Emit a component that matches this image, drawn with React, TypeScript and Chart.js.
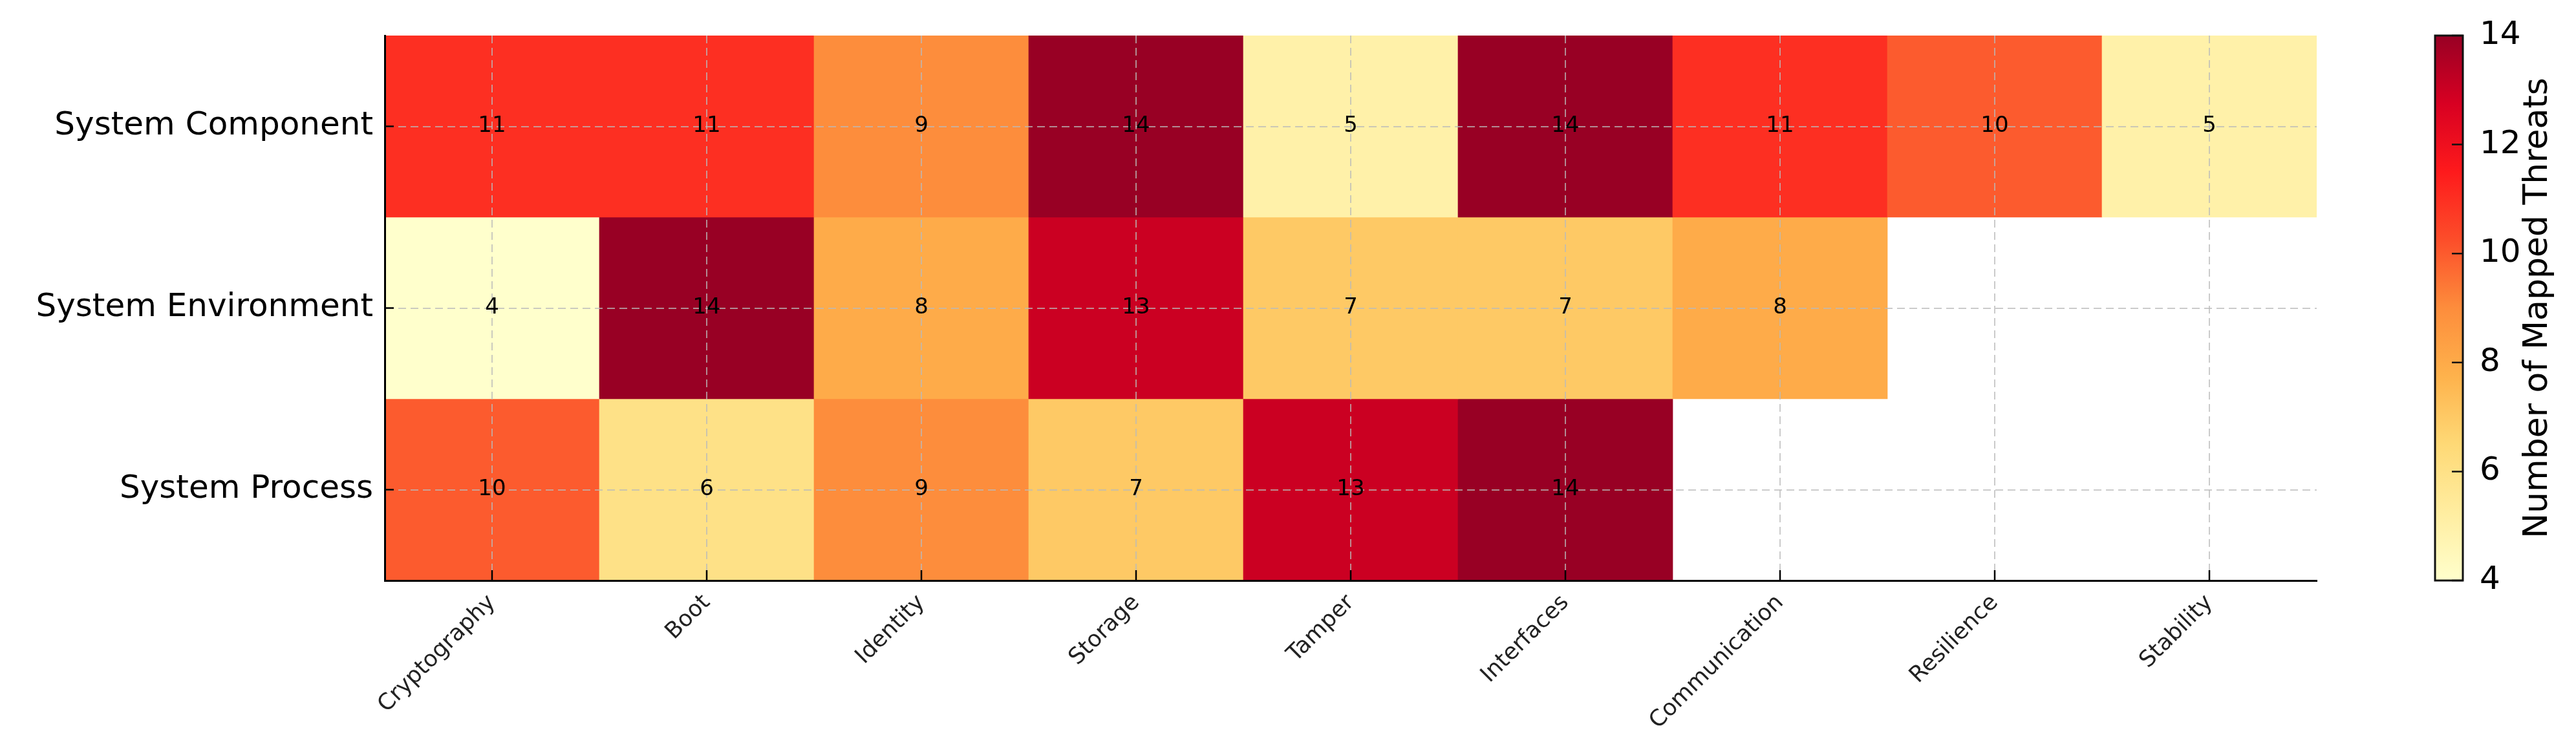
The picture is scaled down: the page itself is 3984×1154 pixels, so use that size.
import React, { useEffect, useRef } from 'react';
import { Chart, registerables } from 'chart.js';

Chart.register(...registerables);

// ---------- data ----------
const columns = ['Cryptography', 'Boot', 'Identity', 'Storage', 'Tamper', 'Interfaces', 'Communication', 'Resilience', 'Stability'];
const rows = ['System Component', 'System Environment', 'System Process'];
const componentValues: (number | null)[] = [11, 11, 9, 14, 5, 14, 11, 10, 5];
const environmentValues: (number | null)[] = [4, 14, 8, 13, 7, 7, 8, null, null];
const processValues: (number | null)[] = [10, 6, 9, 7, 13, 14, null, null, null];
const colorbarTicks = [4, 6, 8, 10, 12, 14];
const vMin = 4;
const vMax = 14;
const colorbarTitle = 'Number of Mapped Threats';

const rowValues = [componentValues, environmentValues, processValues];

// ---------- colormap (YlOrRd-like) ----------
const CMAP = ['#ffffcc', '#ffeda0', '#fed976', '#feb24c', '#fd8d3c', '#fc4e2a', '#fe1a1c', '#d80022', '#980024'];

function hexToRgb(h: string): number[] {
  const n = parseInt(h.slice(1), 16);
  return [(n >> 16) & 255, (n >> 8) & 255, n & 255];
}

function cmap(t: number): string {
  const tt = Math.max(0, Math.min(1, t));
  const n = CMAP.length - 1;
  const p = tt * n;
  const i = Math.min(Math.floor(p), n - 1);
  const f = p - i;
  const a = hexToRgb(CMAP[i]);
  const b = hexToRgb(CMAP[i + 1]);
  const c = a.map((v, k) => Math.round(v + (b[k] - v) * f));
  return `rgb(${c[0]},${c[1]},${c[2]})`;
}

function colorFor(v: number): string {
  return cmap((v - vMin) / (vMax - vMin));
}

const FONT = '"DejaVu Sans", sans-serif';
const GRID_COLOR = 'rgba(185,185,185,0.75)';

const heatPlugin = {
  id: 'heatExtras',
  afterDraw(chart: any) {
    const ctx = chart.ctx as CanvasRenderingContext2D;
    const xs = chart.scales.x;
    const ys = chart.scales.y;
    const cb = chart.scales.cb;
    const area = chart.chartArea;
    ctx.save();

    // cell annotations
    ctx.font = `34px ${FONT}`;
    ctx.fillStyle = '#000';
    ctx.textAlign = 'center';
    ctx.textBaseline = 'middle';
    chart.data.datasets.forEach((_ds: any, di: number) => {
      const meta = chart.getDatasetMeta(di);
      const vals = rowValues[di];
      meta.data.forEach((el: any, i: number) => {
        const v = vals[i];
        if (v == null) return;
        const pt = el.getCenterPoint();
        ctx.fillText(String(v), pt.x, pt.y);
      });
    });

    // inward tick marks
    ctx.strokeStyle = '#000';
    ctx.lineWidth = 2.5;
    ctx.beginPath();
    xs.ticks.forEach((_t: any, i: number) => {
      const px = xs.getPixelForTick(i);
      ctx.moveTo(px, area.bottom);
      ctx.lineTo(px, area.bottom - 16);
    });
    ys.ticks.forEach((_t: any, i: number) => {
      const py = ys.getPixelForTick(i);
      ctx.moveTo(area.left, py);
      ctx.lineTo(area.left + 14, py);
    });
    ctx.stroke();

    // colorbar
    const x0 = cb.left + 183;
    const w = 43;
    const top = cb.getPixelForValue(vMax);
    const bot = cb.getPixelForValue(vMin);
    const grad = ctx.createLinearGradient(0, bot, 0, top);
    CMAP.forEach((c, i) => grad.addColorStop(i / (CMAP.length - 1), c));
    ctx.fillStyle = grad;
    ctx.fillRect(x0, top, w, bot - top);
    ctx.strokeStyle = '#111';
    ctx.lineWidth = 2.5;
    ctx.beginPath();
    colorbarTicks.forEach((v) => {
      const py = cb.getPixelForValue(v);
      ctx.moveTo(x0 + w, py);
      ctx.lineTo(x0 + w - 17, py);
    });
    ctx.stroke();
    ctx.lineWidth = 3;
    ctx.strokeRect(x0, top, w, bot - top);

    // colorbar title
    ctx.translate(cb.left + 342, (top + bot) / 2);
    ctx.rotate(-Math.PI / 2);
    ctx.font = `52px ${FONT}`;
    ctx.fillStyle = '#000';
    ctx.textAlign = 'center';
    ctx.textBaseline = 'middle';
    ctx.fillText(colorbarTitle, 0, 0);
    ctx.restore();
  },
};

export default function App() {
  const ref = useRef<HTMLCanvasElement | null>(null);

  useEffect(() => {
    if (!ref.current) return;
    const datasets = rowValues.map((vals, r) => ({
      label: rows[r],
      data: vals.map((v) => (v == null ? null : [r - 0.5, r + 0.5])),
      backgroundColor: vals.map((v) => (v == null ? 'rgba(0,0,0,0)' : colorFor(v))),
      borderWidth: 0,
      borderSkipped: false,
      barPercentage: 1,
      categoryPercentage: 1,
      grouped: false,
      yAxisID: 'y',
      xAxisID: 'x',
    }));

    const chart = new Chart(ref.current, {
      type: 'bar',
      data: { labels: columns, datasets: datasets as any },
      plugins: [heatPlugin],
      options: {
        animation: false,
        responsive: false,
        devicePixelRatio: 1,
        layout: { padding: { top: 55, left: 0, right: 0, bottom: 0 } },
        plugins: {
          legend: { display: false },
          tooltip: { enabled: false },
        },
        scales: {
          x: {
            type: 'category',
            offset: true,
            grid: {
              offset: false,
              color: GRID_COLOR,
              lineWidth: 2,
              drawTicks: false,
              z: 1,
            },
            border: { display: true, color: '#000', width: 3, dash: [12, 7], z: 2 },
            ticks: {
              maxRotation: 45,
              minRotation: 45,
              autoSkip: false,
              padding: 14,
              color: '#222',
              font: { family: 'DejaVu Sans', size: 35 },
            },
            afterFit: (s: any) => {
              s.height = 256;
            },
          },
          y: {
            type: 'linear',
            position: 'left',
            min: -0.5,
            max: 2.5,
            reverse: true,
            grid: {
              color: GRID_COLOR,
              lineWidth: 2,
              drawTicks: false,
              z: 1,
            },
            border: { display: true, color: '#000', width: 3, dash: [12, 7], z: 2 },
            afterBuildTicks: (s: any) => {
              s.ticks = rows.map((_r, i) => ({ value: i }));
            },
            ticks: {
              padding: 18,
              color: '#000',
              font: { family: 'DejaVu Sans', size: 50 },
              callback: (v: any) => rows[Number(v)] ?? '',
            },
            afterFit: (s: any) => {
              s.width = 595;
            },
          },
          cb: {
            type: 'linear',
            position: 'right',
            min: vMin,
            max: vMax,
            grid: { display: false, drawTicks: true, tickLength: 240 },
            border: { display: false },
            afterBuildTicks: (s: any) => {
              s.ticks = colorbarTicks.map((v) => ({ value: v }));
            },
            ticks: {
              padding: 12,
              color: '#000',
              font: { family: 'DejaVu Sans', size: 50 },
            },
            afterFit: (s: any) => {
              s.width = 401;
            },
          },
        },
      } as any,
    });
    return () => chart.destroy();
  }, []);

  return (
    <div style={{ position: 'fixed', left: 0, top: 0, width: '3984px', height: '1154px', background: '#fff' }}>
      <canvas ref={ref} width={3984} height={1154} style={{ width: '3984px', height: '1154px', display: 'block' }} />
    </div>
  );
}
